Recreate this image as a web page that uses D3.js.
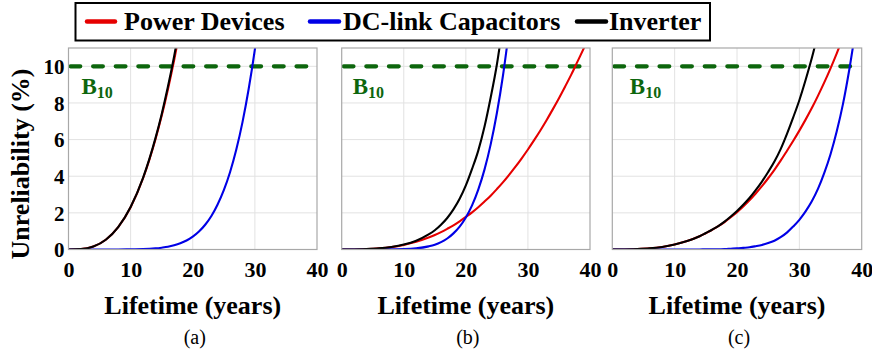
<!DOCTYPE html>
<html>
<head>
<meta charset="utf-8">
<script src="https://cdn.jsdelivr.net/npm/d3@7"></script>
<style>
  body { margin: 0; background: #fff; }
  svg { display: block; }
  svg text { font-family: "Liberation Serif", "Times New Roman", Tinos, "DejaVu Serif", serif; }
</style>
</head>
<body>
<svg id="chart" width="872" height="356"></svg>
<script>
// Lifetime grid (years) shared by every series
const years = [0, 2, 4, 6, 8, 10, 12, 14, 15, 16, 17, 18, 19, 20, 21, 22, 23, 24, 25, 26, 27,
               28, 29, 30, 31, 32, 33, 34, 35, 36, 37, 38, 39, 40];

const xTicks = [0, 10, 20, 30, 40];
const yTicks = [0, 2, 4, 6, 8, 10];
const seriesNames = ["Power Devices", "DC-link Capacitors", "Inverter"];
const panelLabels = ["(a)", "(b)", "(c)"];
const b10Level = 10;

// Unreliability (%) along `years`; each list ends once the curve leaves the plot
const powerA = [0, 0.02, 0.16, 0.53, 1.22, 2.31, 3.89, 6.02, 7.30, 8.74, 10.33, 12.08];
const capA   = [0, 0, 0, 0, 0, 0.01, 0.02, 0.06, 0.10, 0.15, 0.23, 0.34, 0.49, 0.70, 0.98, 1.35,
                1.83, 2.46, 3.24, 4.22, 5.44, 6.94, 8.76, 10.93, 13.52];
const invA   = [0, 0.02, 0.16, 0.53, 1.22, 2.32, 3.91, 6.08, 7.39, 8.88, 10.54, 12.38];

const powerB = [0, 0, 0.02, 0.06, 0.13, 0.25, 0.42, 0.65, 0.79, 0.95, 1.13, 1.32, 1.54, 1.78,
                2.03, 2.31, 2.62, 2.94, 3.30, 3.68, 4.09, 4.52, 4.98, 5.46, 5.97, 6.50, 7.06,
                7.65, 8.26, 8.90, 9.56, 10.27, 10.98, 11.72];
const capB   = [0, 0, 0, 0, 0.01, 0.02, 0.06, 0.17, 0.26, 0.40, 0.60, 0.88, 1.25, 1.75, 2.41,
                3.27, 4.36, 5.74, 7.45, 9.54, 12.08];
const invB   = [0, 0, 0.02, 0.06, 0.14, 0.27, 0.48, 0.82, 1.05, 1.35, 1.72, 2.19, 2.77, 3.50,
                4.40, 5.40, 6.70, 8.30, 10.10, 12.40];

const powerC = [0, 0, 0.02, 0.06, 0.14, 0.27, 0.46, 0.72, 0.89, 1.07, 1.27, 1.50, 1.76, 2.04,
                2.35, 2.69, 3.06, 3.46, 3.89, 4.35, 4.85, 5.38, 5.92, 6.49, 7.09, 7.72, 8.40,
                9.12, 9.89, 10.71, 11.58];
const capC   = [0, 0, 0, 0, 0, 0, 0, 0, 0.01, 0.01, 0.01, 0.02, 0.04, 0.06, 0.09, 0.12, 0.18,
                0.25, 0.35, 0.48, 0.67, 0.92, 1.25, 1.62, 2.08, 2.63, 3.32, 4.18, 5.20, 6.45,
                7.95, 9.80, 11.96];
const invC   = [0, 0, 0.02, 0.06, 0.14, 0.27, 0.46, 0.72, 0.90, 1.08, 1.28, 1.52, 1.80, 2.10,
                2.44, 2.81, 3.24, 3.71, 4.23, 4.80, 5.48, 6.30, 7.20, 8.15, 9.25, 10.45, 11.80];

const panels = [
  { label: panelLabels[0], series: [powerA, capA, invA], range: [68.5, 317], bOffset: 13 },
  { label: panelLabels[1], series: [powerB, capB, invB], range: [341.7, 590], bOffset: 11 },
  { label: panelLabels[2], series: [powerC, capC, invC], range: [612.3, 861.7], bOffset: 17.5 }
];

const colors = ["#e60000", "#0000e6", "#000000"];
const green = "#0d660d";

const svg = d3.select("#chart");
const y = d3.scaleLinear().domain([0, 11]).range([249.5, 48]);

panels.forEach((p, pi) => {
  const x = d3.scaleLinear().domain([0, 40]).range(p.range);
  const g = svg.append("g");
  const top = y(11), bottom = y(0);

  g.append("rect")
    .attr("x", x(0)).attr("y", top)
    .attr("width", x(40) - x(0)).attr("height", bottom - top)
    .attr("fill", "#fff");

  // grid
  g.selectAll(".vgrid").data(xTicks.slice(1, -1)).join("line")
    .attr("x1", d => x(d)).attr("x2", d => x(d))
    .attr("y1", top).attr("y2", bottom)
    .attr("stroke", "#e2e2e2").attr("stroke-width", 1);
  g.selectAll(".hgrid").data(yTicks.slice(1)).join("line")
    .attr("x1", x(0)).attr("x2", x(40))
    .attr("y1", d => y(d)).attr("y2", d => y(d))
    .attr("stroke", "#e2e2e2").attr("stroke-width", 1);

  // x axis labels
  const xAxis = d3.axisBottom(x).tickValues(xTicks).tickSize(0).tickPadding(0).tickFormat(d3.format("d"));
  const xa = g.append("g").attr("transform", `translate(0,${bottom})`).call(xAxis);
  xa.attr("font-family", null).attr("font-size", null);
  xa.select(".domain").remove();
  xa.selectAll("text")
    .attr("y", 27.5).attr("dy", null)
    .attr("font-weight", "bold").attr("font-size", 22)
    .attr("fill", "#000");

  if (pi === 0) {
    const yAxis = d3.axisLeft(y).tickValues(yTicks).tickSize(0).tickPadding(0);
    const ya = g.append("g").attr("transform", `translate(${x(0)},0)`).call(yAxis);
    ya.attr("font-family", null).attr("font-size", null);
    ya.select(".domain").remove();
    ya.selectAll("text")
      .attr("x", -4).attr("dy", "0.34em")
      .attr("font-weight", "bold").attr("font-size", 21)
      .attr("fill", "#000");
  }

  // clip
  const clipId = "clip" + pi;
  svg.append("clipPath").attr("id", clipId).append("rect")
    .attr("x", x(0)).attr("y", top)
    .attr("width", x(40) - x(0)).attr("height", bottom - top);

  // B10 reference line
  g.append("line")
    .attr("x1", x(0) + 2).attr("x2", x(40))
    .attr("y1", y(b10Level)).attr("y2", y(b10Level))
    .attr("stroke", green).attr("stroke-width", 4.2)
    .attr("stroke-linecap", "round")
    .attr("stroke-dasharray", "9.8 12.8")
    .attr("clip-path", `url(#${clipId})`);

  const bt = g.append("text")
    .attr("x", x(0) + p.bOffset).attr("y", 93.5)
    .attr("font-weight", "bold").attr("font-size", 23)
    .attr("fill", green)
    .text("B");
  bt.append("tspan").attr("font-size", 16).attr("dy", 4).text("10");

  // curves
  const line = d3.line()
    .x((d, i) => x(years[i]))
    .y(d => y(d))
    .curve(d3.curveMonotoneX);
  const cg = g.append("g").attr("clip-path", `url(#${clipId})`);
  p.series.forEach((vals, si) => {
    cg.append("path")
      .attr("d", line(vals))
      .attr("fill", "none")
      .attr("stroke", colors[si])
      .attr("stroke-width", 2.1)
      .attr("stroke-linejoin", "round");
  });

  // frame
  g.append("rect")
    .attr("x", x(0)).attr("y", top)
    .attr("width", x(40) - x(0)).attr("height", bottom - top)
    .attr("fill", "none").attr("stroke", "#a8a8a8").attr("stroke-width", 1.2);

  // axis title and panel label
  const cx = (x(0) + x(40)) / 2;
  g.append("text")
    .attr("x", cx).attr("y", 313.5).attr("text-anchor", "middle")
    .attr("font-weight", "bold").attr("font-size", 26)
    .text("Lifetime (years)");
  g.append("text")
    .attr("x", cx + 2).attr("y", 344).attr("text-anchor", "middle")
    .attr("font-size", 20)
    .text(p.label);
});

// y axis title
svg.append("text")
  .attr("transform", "translate(29,164) rotate(-90)")
  .attr("text-anchor", "middle")
  .attr("font-weight", "bold").attr("font-size", 26)
  .text("Unreliability (%)");

// legend
const legend = svg.append("g");
legend.append("rect")
  .attr("x", 75.5).attr("y", 3).attr("width", 634.5).attr("height", 37.5)
  .attr("fill", "#fff").attr("stroke", "#000").attr("stroke-width", 2);
const legendPos = [
  { x1: 87, x2: 115, tx: 124 },
  { x1: 310, x2: 339, tx: 343 },
  { x1: 577, x2: 606, tx: 609 }
];
seriesNames.forEach((name, i) => {
  const lp = legendPos[i];
  legend.append("line")
    .attr("x1", lp.x1).attr("x2", lp.x2).attr("y1", 21.5).attr("y2", 21.5)
    .attr("stroke", colors[i]).attr("stroke-width", 4.5).attr("stroke-linecap", "round");
  legend.append("text")
    .attr("x", lp.tx).attr("y", 30)
    .attr("font-weight", "bold").attr("font-size", 26)
    .text(name);
});
</script>
</body>
</html>
